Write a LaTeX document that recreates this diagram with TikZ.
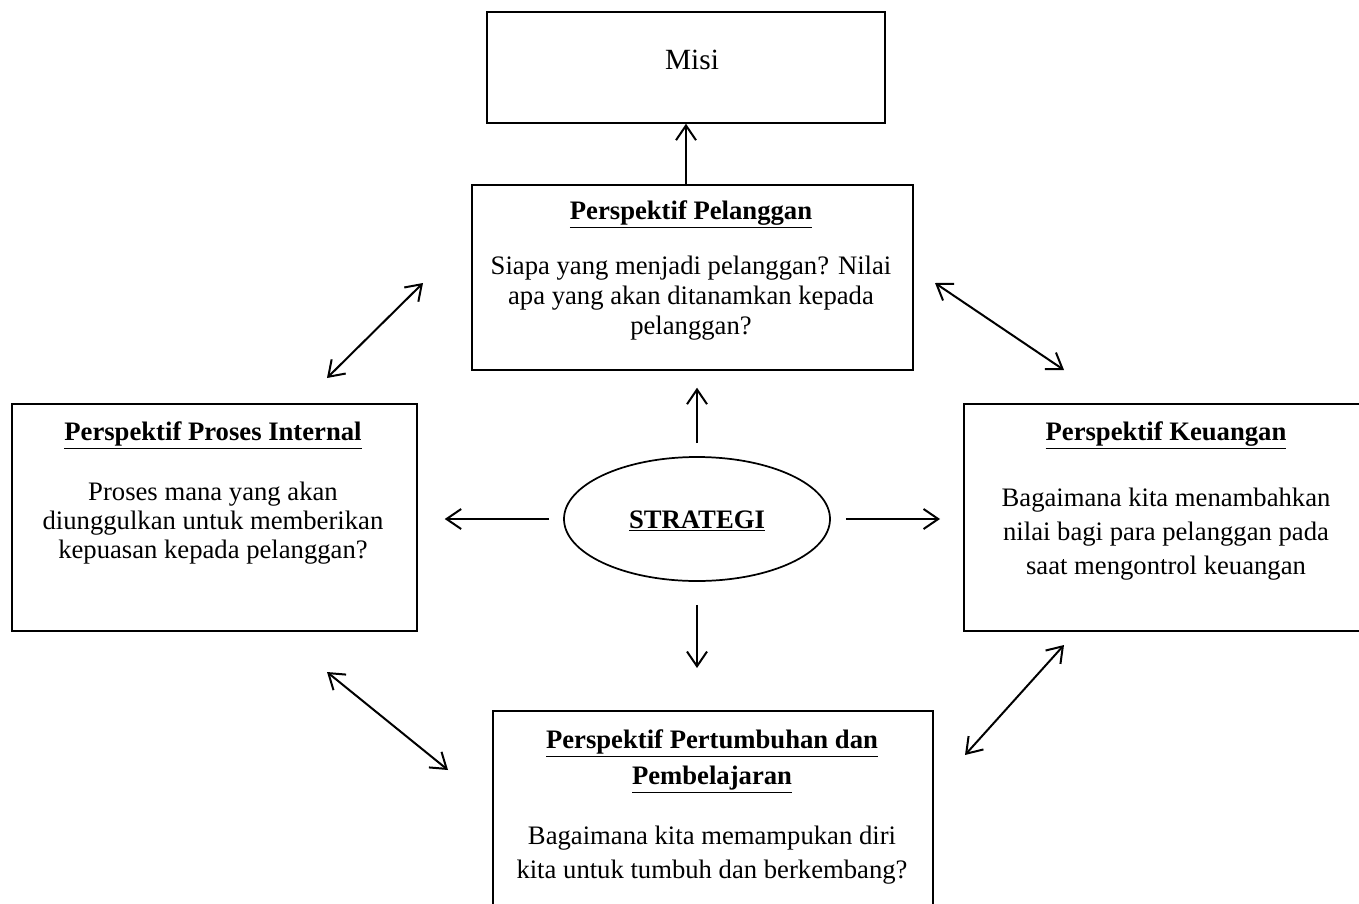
\documentclass[tikz,border=0pt]{standalone}
\usepackage{fontspec}
\setmainfont{Liberation Serif}
\usetikzlibrary{arrows.meta,shapes.geometric}
\begin{document}
\begin{tikzpicture}[x=0.75pt,y=-0.75pt,
  box/.style={draw,line width=1.3pt,anchor=north west,inner sep=0pt},
  ttl/.style={font=\fontsize{20}{23}\selectfont\bfseries,align=center,inner sep=0pt},
  bd/.style={font=\fontsize{20}{22.5}\selectfont,align=center,inner sep=0pt},
  arr/.style={line width=1.5pt,-{Straight Barb[length=11pt,width=15pt]}},
  darr/.style={line width=1.5pt,{Straight Barb[length=11pt,width=15pt]}-{Straight Barb[length=11pt,width=15pt]}}
]
\useasboundingbox (0,0) rectangle (1359,903);
\clip (0,0) rectangle (1359,903);

% boxes
\node[box,minimum width=298.5pt,minimum height=83.25pt] (misi) at (486,11) {};
\node[box,minimum width=330.75pt,minimum height=138.75pt] (pel) at (471,184) {};
\node[box,minimum width=303.75pt,minimum height=170.25pt] (pro) at (11,403) {};
\node[box,minimum width=315pt,minimum height=170.25pt] (keu) at (963,403) {};
\node[box,minimum width=330pt,minimum height=165pt] (per) at (492,710) {};
\node[draw,ellipse,line width=1.3pt,minimum width=199.5pt,minimum height=93pt,inner sep=0pt] (str) at (697,519) {};

% texts
\node[bd,font=\fontsize{22}{24}\selectfont] (misiT) at (692,60) {Misi};
\node[ttl] (pelT) at (691,214) {\underline{Perspektif Pelanggan}};
\node[bd] (pelB) at (691,298) {Siapa yang menjadi pelanggan? Nilai\\apa yang akan ditanamkan kepada\\pelanggan?};
\node[ttl] (proT) at (213,435) {\underline{Perspektif Proses Internal}};
\node[bd,font=\fontsize{20}{21.75}\selectfont] (proB) at (213,523) {Proses mana yang akan\\diunggulkan untuk memberikan\\kepuasan kepada pelanggan?};
\node[ttl] (keuT) at (1166,435) {\underline{Perspektif Keuangan}};
\node[bd,font=\fontsize{20}{25.5}\selectfont] (keuB) at (1166,534) {Bagaimana kita menambahkan\\nilai bagi para pelanggan pada\\saat mengontrol keuangan};
\node[ttl,font=\fontsize{20}{27}\selectfont\bfseries] (perT) at (712,761) {\underline{Perspektif Pertumbuhan dan}\\\underline{Pembelajaran}};
\node[bd,font=\fontsize{20}{25.5}\selectfont] (perB) at (712,855) {Bagaimana kita memampukan diri\\kita untuk tumbuh dan berkembang?};
\node[ttl] (strT) at (697,521) {\underline{STRATEGI}};

% straight connectors
\coordinate (ax) at (686,0);
\draw[arr] (pel.north -| ax) -- (misi.south -| ax);
\draw[arr,shorten <=9.75pt,shorten >=12.75pt] (str.north) -- (str.north |- pel.south);
\draw[arr,shorten <=10.5pt,shorten >=20.25pt] (str.west) -- (str.west -| pro.east);
\draw[arr,shorten <=11.25pt,shorten >=17.25pt] (str.east) -- (str.east -| keu.west);
\draw[arr,shorten <=17.25pt,shorten >=31.5pt] (str.south) -- (str.south |- per.north);

% diagonal double arrows
\coordinate (d1a) at (327,378); \coordinate (d1b) at (423,283);
\coordinate (d2a) at (935,283); \coordinate (d2b) at (1064,370);
\coordinate (d3a) at (327,672); \coordinate (d3b) at (448,770);
\coordinate (d4a) at (965,755); \coordinate (d4b) at (1064,645);
\draw[darr] (d1a) -- (d1b);
\draw[darr] (d2a) -- (d2b);
\draw[darr] (d3a) -- (d3b);
\draw[darr] (d4a) -- (d4b);
\end{tikzpicture}
\end{document}
